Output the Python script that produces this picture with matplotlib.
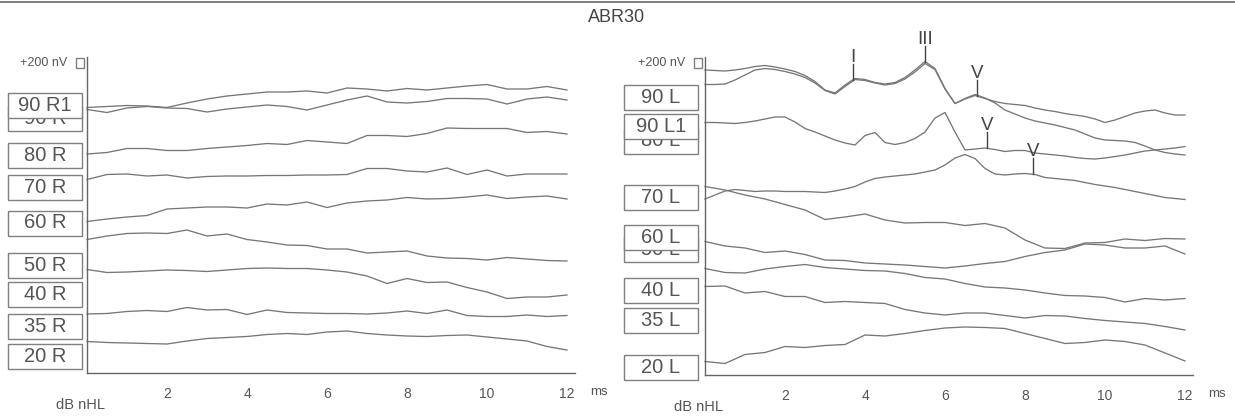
import numpy as np
import matplotlib
matplotlib.use("Agg")
import matplotlib.pyplot as plt
from matplotlib.patches import Rectangle

plt.rcParams['font.family'] = ['Liberation Sans', 'DejaVu Sans']

# sample times (ms)
t_coarse = np.arange(0, 12.01, 0.5)
t_fine = np.arange(0, 12.01, 0.25)

# ---- right ear (left panel), amplitudes in nV relative to the first sample ----
amp_90R1 = [0, 20, 40, 30, 0, 90, 170, 230, 270, 310, 310, 330, 290, 390, 370, 330, 380, 350, 390, 430, 460, 370, 370, 420, 350]
amp_90R = [0, -60, 30, 60, 30, 20, -50, 10, 50, 90, 60, -10, 90, 190, 270, 150, 130, 160, 220, 220, 210, 110, 210, 250, 190]
amp_80R = [0, 30, 110, 110, 70, 70, 110, 140, 170, 210, 190, 270, 240, 210, 370, 370, 350, 410, 520, 510, 510, 510, 430, 450, 400]
amp_70R = [0, 100, 110, 70, 90, 30, 60, 70, 70, 80, 80, 90, 90, 100, 220, 220, 170, 150, 230, 100, 190, 70, 110, 110, 110]
amp_60R = [0, 50, 90, 120, 250, 270, 290, 290, 270, 350, 330, 390, 280, 370, 410, 430, 480, 450, 460, 490, 530, 460, 490, 510, 450]
amp_50R = [0, 70, 120, 130, 120, 190, 70, 110, 0, -50, -110, -120, -190, -190, -270, -250, -230, -330, -370, -380, -410, -360, -390, -420, -430]
amp_40R = [0, -60, -50, -30, -10, -20, -40, -10, 20, 30, 20, 20, -10, -50, -130, -280, -180, -260, -250, -360, -450, -580, -550, -550, -510]
amp_35R = [0, 10, 50, 70, 50, 130, 80, 90, -10, 80, 30, 20, 10, 10, 0, 20, 60, 10, 80, -30, -50, -50, -20, -50, -30]
amp_20R = [0, -20, -30, -40, -50, 10, 60, 80, 100, 140, 160, 140, 190, 210, 160, 130, 110, 100, 120, 130, 90, 50, 10, -100, -170]

# ---- left ear (right panel) ----
amp_90L = [0, -10, -20, 0, 30, 70, 90, 60, 20, -30,
           -110, -230, -400, -460, -300, -170, -190, -250, -280, -250,
           -150, 0, 170, 30, -370, -670, -580, -510, -570, -630,
           -670, -690, -710, -760, -800, -830, -870, -900, -930, -980,
           -1050, -1000, -930, -860, -820, -800, -860, -900, -900]
amp_90L1 = [0, 0, 10, 90, 190, 290, 320, 300, 260, 210,
            140, 30, -120, -190, -40, 100, 80, 30, -10, 20,
            110, 250, 420, 300, -90, -380, -280, -200, -270, -370,
            -510, -590, -670, -730, -770, -810, -860, -910, -990, -1070,
            -1110, -1120, -1130, -1160, -1230, -1310, -1360, -1390, -1410]
amp_80L = [0, 0, -10, -20, 0, 30, 70, 110, 110, 10,
           -120, -190, -270, -350, -410, -450, -260, -200, -400, -440,
           -400, -320, -190, 90, 200, -190, -550, -530, -510, -540,
           -580, -560, -560, -610, -630, -650, -670, -700, -720, -730,
           -710, -680, -650, -610, -570, -550, -530, -510, -480]
amp_70L = [0, 80, 160, 190, 170, 150, 160, 160, 150, 150,
           150, 140, 130, 160, 200, 250, 340, 410, 440, 460,
           480, 500, 540, 580, 680, 820, 890, 810, 610, 500,
           480, 500, 510, 490, 430, 410, 390, 370, 330, 290,
           260, 230, 190, 150, 110, 70, 30, 10, -10]
amp_60L = [0, -70, -170, -250, -360, -470, -660, -610, -550, -670, -730, -720, -720, -780, -740, -830, -1070, -1230, -1240, -1130, -1120, -1050, -1080, -1040, -1050]
amp_50L = [0, -90, -130, -220, -190, -260, -370, -380, -430, -450, -470, -500, -530, -490, -440, -400, -300, -220, -170, -50, -70, -130, -130, -90, -250]
amp_40L = [0, -80, -90, -10, 40, 80, 20, -10, -40, -50, -100, -180, -210, -300, -370, -390, -430, -490, -540, -550, -580, -670, -600, -630, -600]
amp_35L = [0, 10, -130, -100, -200, -200, -320, -300, -320, -340, -460, -530, -570, -530, -530, -580, -630, -580, -590, -640, -680, -710, -740, -800, -870]
amp_20L = [0, -40, 140, 180, 300, 280, 320, 340, 530, 510, 560, 620, 670, 690, 680, 660, 560, 460, 360, 380, 430, 400, 330, 170, 10]

# peak markers on the left-ear traces
marker_text = ['I', 'III', 'V', 'V', 'V']
marker_ms = [3.7, 5.5, 6.8, 7.05, 8.2]
marker_trace = [0, 0, 0, 2, 3]

# labels shown in the boxes, and the box centres (nV above the time axis)
labels_R = ['20 R', '35 R', '40 R', '50 R', '60 R', '70 R', '80 R', '90 R', '90 R1']
label_pos_R = [340, 940, 1580, 2150, 3000, 3710, 4350, 5090, 5350]
labels_L = ['20 L', '35 L', '40 L', '50 L', '60 L', '70 L', '80 L', '90 L1', '90 L']
label_pos_L = [150, 1100, 1700, 2510, 2750, 3550, 4680, 4970, 5550]

# (time grid, amplitudes, vertical stacking offset in nV)
traces_R = [(t_coarse, amp_90R1, 5310), (t_coarse, amp_90R, 5270), (t_coarse, amp_80R, 4380),
            (t_coarse, amp_70R, 3870), (t_coarse, amp_60R, 3030), (t_coarse, amp_50R, 2670),
            (t_coarse, amp_40R, 2070), (t_coarse, amp_35R, 1180), (t_coarse, amp_20R, 630)]
traces_L = [(t_fine, amp_90L, 6100), (t_fine, amp_90L1, 5810), (t_fine, amp_80L, 5050),
            (t_fine, amp_70L, 3520), (t_coarse, amp_60L, 3770), (t_coarse, amp_50L, 2670),
            (t_coarse, amp_40L, 2130), (t_coarse, amp_35L, 1770), (t_coarse, amp_20L, 270)]

W, H = 1235, 416
TRACE = '#777777'
INK = '#555555'

fig = plt.figure(figsize=(W / 100, H / 100), dpi=100)
fig.patch.set_facecolor('white')


def make_panel(x0, bottom, top, traces, labels, label_pos, box_x):
    ax = fig.add_axes([x0 / W, (H - bottom) / H, 488 / W, (bottom - top) / H])
    ymax = (bottom - top) * 20
    ax.set_xlim(0, 12.2)
    ax.set_ylim(0, ymax)
    for s in ['top', 'right']:
        ax.spines[s].set_visible(False)
    for s in ['left', 'bottom']:
        ax.spines[s].set_color('#666666')
        ax.spines[s].set_linewidth(1.0)
    ax.set_yticks([])
    ax.set_xticks([2, 4, 6, 8, 10, 12])
    ax.set_xticklabels(['2', '4', '6', '8', '10', '12'])
    ax.tick_params(axis='x', length=0, pad=10, labelsize=10, labelcolor=INK)

    for t, amp, off in traces:
        ax.plot(t, off + np.array(amp), color=TRACE, lw=0.95, solid_joinstyle='round', clip_on=False)

    # label boxes, drawn bottom to top so upper boxes hide the ones below
    for i, (lab, c) in enumerate(zip(labels, label_pos)):
        ax.add_patch(Rectangle((box_x, c - 250), 1.85, 500, facecolor='white', edgecolor='#808080',
                               lw=1.0, clip_on=False, zorder=3 + i))
        ax.text(box_x + 0.925, c, lab, ha='center', va='center', fontsize=14.5, color=INK,
                zorder=3.5 + i, clip_on=False)

    # +200 nV calibration box
    ax.add_patch(Rectangle((-0.27, ymax - 220), 0.2, 200, facecolor='none', edgecolor='#808080',
                           lw=1.0, clip_on=False))
    ax.text(-0.5, ymax - 120, '+200 nV', ha='right', va='center', fontsize=9, color=INK)
    ax.annotate('ms', xy=(12.8, 0), xycoords='data', xytext=(0, -19), textcoords='offset pixels',
                ha='center', va='center', fontsize=9.5, color=INK, annotation_clip=False)
    ax.annotate('dB nHL', xy=(-0.15, 0), xycoords='data', xytext=(0, -32), textcoords='offset pixels',
                ha='center', va='center', fontsize=10.5, color=INK, annotation_clip=False)
    return ax


ax_r = make_panel(87, 373, 57, traces_R, labels_R, label_pos_R, -1.975)
ax_l = make_panel(705, 375, 57, traces_L, labels_L, label_pos_L, -2.025)

# wave markers
for txt, ms, k in zip(marker_text, marker_ms, marker_trace):
    t, amp, off = traces_L[k]
    y0 = off + np.interp(ms, t, amp)
    ax_l.plot([ms, ms], [y0, y0 + 320], color='#444444', lw=1.0, clip_on=False)
    ax_l.text(ms, y0 + 360, txt, ha='center', va='baseline', fontsize=13.5, color='#444444', clip_on=False)

fig.text(617 / W, 1 - 18 / H, 'ABR30', ha='center', va='center', fontsize=13, color='#444444')
fig.add_artist(plt.Line2D([0, 1], [1 - 1.5 / H, 1 - 1.5 / H], transform=fig.transFigure, color='#666666', lw=1.2))

fig.savefig('out.png', dpi=100, facecolor='white')
